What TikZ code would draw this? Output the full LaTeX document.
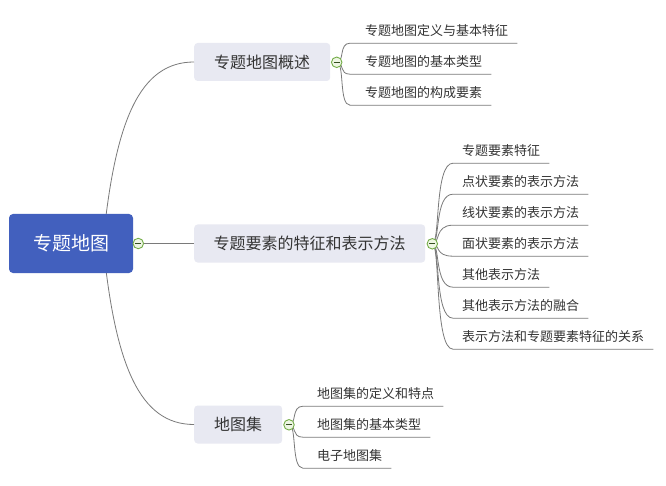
\documentclass[tikz,border=0pt]{standalone}
\usepackage{fontspec}
\setmainfont{Noto Sans CJK SC}
\definecolor{rootblue}{HTML}{4260BE}
\definecolor{branchbg}{HTML}{E8E9F2}
\definecolor{linegray}{HTML}{7A7A7A}
\definecolor{txt}{HTML}{333333}
\definecolor{cgreen}{HTML}{74AD48}
\definecolor{cfill}{HTML}{EEF6E4}
\tikzset{
  rootbox/.style={fill=rootblue, rounded corners=4pt, text=white, font=\fontsize{19}{19}\selectfont, minimum width=124pt, minimum height=59pt, inner sep=0pt},
  branchbox/.style={fill=branchbg, rounded corners=3.5pt, text=txt, font=\fontsize{16}{16}\selectfont, minimum height=38pt, inner sep=0pt, anchor=west},
  leaf/.style={text=txt, font=\fontsize{13}{13}\selectfont, minimum height=24pt, inner xsep=0pt, inner ysep=0pt, anchor=west},
  conn/.style={draw=linegray, line width=0.8pt},
  collapse/.style={circle, draw=cgreen, fill=cfill, line width=0.9pt, minimum size=10.5pt, inner sep=0pt,
     path picture={\draw[cgreen!45!black, line width=1pt] ([xshift=-3pt]path picture bounding box.center) -- ([xshift=3pt]path picture bounding box.center);}},
}
\begin{document}
\begin{tikzpicture}[x=1pt,y=-1pt]
\useasboundingbox (0,0) rectangle (666,486);
\fill[white] (0,0) rectangle (666,486);

% branches
\node[branchbox, minimum width=136pt] (b1) at (194,62) {专题地图概述};
\node[branchbox, minimum width=231pt] (b2) at (194,243.5) {专题要素的特征和表示方法};
\node[branchbox, minimum width=88pt] (b3) at (194,424.5) {地图集};

% root connectors (start hidden behind the root box)
\coordinate (rc) at (103,243);
\draw[conn] (rc) .. controls (115,120) and (140,62) .. (b1.west);
\draw[conn] (rc) .. controls (115,366) and (140,424.5) .. (b3.west);

% root
\node[rootbox] (root) at (71,243.5) {专题地图};
\node[collapse] (c0) at (138.3,243.5) {};
\draw[conn] (c0.east) -- (b2.west);

% leaves of branch 1
\node[leaf] (l11) at (365,31) {专题地图定义与基本特征};
\node[leaf] (l12) at (365,62) {专题地图的基本类型};
\node[leaf] (l13) at (365,93) {专题地图的构成要素};

% leaves of branch 2
\node[leaf] (l21) at (462,151) {专题要素特征};
\node[leaf] (l22) at (462,182) {点状要素的表示方法};
\node[leaf] (l23) at (462,213) {线状要素的表示方法};
\node[leaf] (l24) at (462,244) {面状要素的表示方法};
\node[leaf] (l25) at (462,275) {其他表示方法};
\node[leaf] (l26) at (462,306) {其他表示方法的融合};
\node[leaf] (l27) at (462,337) {表示方法和专题要素特征的关系};

% leaves of branch 3
\node[leaf] (l31) at (317,394) {地图集的定义和特点};
\node[leaf] (l32) at (317,425) {地图集的基本类型};
\node[leaf] (l33) at (317,456) {电子地图集};

% collapse marker positions
\coordinate (k1) at (336.7,62.3);
\coordinate (k2) at (432.3,243.8);
\coordinate (k3) at (289,424.8);

% leaf connectors
\foreach \l in {l11,l12,l13}{
  \draw[conn] (k1) .. controls ([xshift=8pt]k1) and ([xshift=2pt]k1 |- \l.south west) .. ([xshift=-15pt]\l.south west) -- ([xshift=9pt]\l.south east);
}
\foreach \l in {l21,l22,l23,l24,l25,l26,l27}{
  \draw[conn] (k2) .. controls ([xshift=8pt]k2) and ([xshift=2pt]k2 |- \l.south west) .. ([xshift=-9pt]\l.south west) -- ([xshift=9pt]\l.south east);
}
\foreach \l in {l31,l32,l33}{
  \draw[conn] (k3) .. controls ([xshift=8pt]k3) and ([xshift=2pt]k3 |- \l.south west) .. ([xshift=-14pt]\l.south west) -- ([xshift=9pt]\l.south east);
}

\node[collapse] (c1) at (k1) {};
\node[collapse] (c2) at (k2) {};
\node[collapse] (c3) at (k3) {};
\end{tikzpicture}
\end{document}
